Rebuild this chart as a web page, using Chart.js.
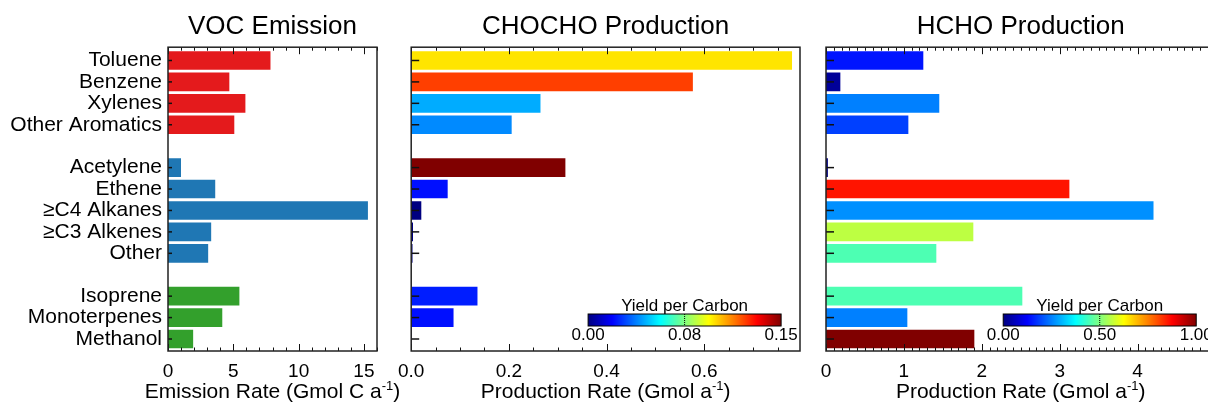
<!DOCTYPE html>
<html>
<head>
<meta charset="utf-8">
<script src="https://cdn.jsdelivr.net/npm/chart.js@4.4.1/dist/chart.umd.min.js"></script>
<style>
    html, body { margin: 0; padding: 0; background: #fff; width: 1208px; height: 403px; overflow: hidden; }
    .panel { position: absolute; top: 0; height: 403px; }
</style>
</head>
<body>
<div class="panel" style="left:0; width:412px"><canvas id="voc"></canvas></div>
<div class="panel" style="left:389px; width:423px"><canvas id="chocho"></canvas></div>
<div class="panel" style="left:811px; width:408px"><canvas id="hcho"></canvas></div>
<script>
// categories, blank entries are the gaps between groups
const categories = ["Toluene", "Benzene", "Xylenes", "Other Aromatics", "",
    "Acetylene", "Ethene", "\u2265C4 Alkanes", "\u2265C3 Alkenes", "Other", "",
    "Isoprene", "Monoterpenes", "Methanol"];
const groups = ["arom", "arom", "arom", "arom", "", "anth", "anth", "anth", "anth", "anth", "", "bio", "bio", "bio"];

// VOC emission (Gmol C a-1)
const emission = [7.82, 4.67, 5.90, 5.05, null, 0.97, 3.59, 15.28, 3.28, 3.05, null, 5.44, 4.13, 1.90];
// CHOCHO production (Gmol a-1) and yield per carbon
const chochoProd = [0.779, 0.576, 0.264, 0.205, null, 0.315, 0.074, 0.020, 0.003, 0.002, null, 0.135, 0.086, 0];
const chochoYield = [0.0975, 0.122, 0.044, 0.039, null, 0.15, 0.021, 0.0, 0.0, 0.0, null, 0.023, 0.021, 0];
// HCHO production (Gmol a-1) and yield per carbon
const hchoProd = [1.245, 0.18, 1.45, 1.053, null, 0.02, 3.12, 4.20, 1.887, 1.412, null, 2.516, 1.04, 1.90];
const hchoYield = [0.145, 0.025, 0.25, 0.1875, null, 0.0, 0.855, 0.266, 0.56, 0.45, null, 0.45, 0.25, 1.0];

// tick labels
const vocTicks = [0, 5, 10, 15];
const chochoTicks = [0, 0.2, 0.4, 0.6];
const hchoTicks = [0, 1, 2, 3, 4];
const chochoBarLabels = ["0.00", "0.08", "0.15"];
const hchoBarLabels = ["0.00", "0.50", "1.00"];

const groupColors = { arom: "#e41a1c", anth: "#1f77b4", bio: "#33a02c" };
const FONT = "'Liberation Sans', Arial, sans-serif";

Chart.defaults.font.family = FONT;
Chart.defaults.color = "#000";

// jet colour map
function jet(t) {
    t = Math.max(0, Math.min(1, t));
    const c = v => Math.round(255 * Math.max(0, Math.min(1, v)));
    return `rgb(${c(1.5 - Math.abs(4 * t - 3))},${c(1.5 - Math.abs(4 * t - 2))},${c(1.5 - Math.abs(4 * t - 1))})`;
}

// box round the plot with inward ticks
const frameTicks = {
    id: "frameTicks",
    afterDatasetsDraw(chart, args, opts) {
        const { ctx, chartArea: a, scales: { x, y } } = chart;
        ctx.save();
        ctx.strokeStyle = "#111";
        ctx.lineWidth = 1;
        const n = Math.floor(x.max / opts.minor + 1e-6);
        for (let k = 0; k <= n; k++) {
            const v = k * opts.minor;
            const px = Math.round(x.getPixelForValue(v)) + 0.5;
            const major = Math.abs(v / opts.major - Math.round(v / opts.major)) < 1e-6;
            const len = major ? opts.majorLen : opts.minorLen;
            ctx.beginPath();
            ctx.moveTo(px, a.bottom); ctx.lineTo(px, a.bottom - len);
            ctx.moveTo(px, a.top); ctx.lineTo(px, a.top + len);
            ctx.stroke();
        }
        ctx.lineWidth = 1.5;
        categories.forEach((c, i) => {
            if (!c) return;
            const py = y.getPixelForValue(i);
            ctx.beginPath();
            ctx.moveTo(a.left, py); ctx.lineTo(a.left + opts.yLen, py);
            ctx.stroke();
        });
        ctx.strokeStyle = "#222";
        ctx.strokeRect(a.left, a.top, a.right - a.left, a.bottom - a.top);
        ctx.restore();
    }
};

// x axis title with a raised "-1"
const xTitle = {
    id: "xTitle",
    afterDraw(chart, args, opts) {
        const { ctx, chartArea: a } = chart;
        const big = "21px " + FONT, small = "13px " + FONT;
        ctx.save();
        ctx.fillStyle = "#000";
        ctx.textBaseline = "alphabetic";
        ctx.textAlign = "left";
        ctx.font = big;
        const w1 = ctx.measureText(opts.pre).width, w3 = ctx.measureText(")").width;
        ctx.font = small;
        const w2 = ctx.measureText("-1").width;
        let x = (a.left + a.right) / 2 - (w1 + w2 + w3) / 2;
        const base = 398;
        ctx.font = big;
        ctx.fillText(opts.pre, x, base);
        ctx.font = small;
        ctx.fillText("-1", x + w1, base - 8);
        ctx.font = big;
        ctx.fillText(")", x + w1 + w2, base);
        ctx.restore();
    }
};

// colour bar legend
const colorBar = {
    id: "colorBar",
    afterDraw(chart, args, opts) {
        if (!opts.labels) return;
        const { ctx, chartArea: a } = chart;
        const w = a.right - a.left;
        const x0 = a.left + 0.455 * w, x1 = x0 + 193;
        const y0 = 314, y1 = 326;
        ctx.save();
        const g = ctx.createLinearGradient(x0, 0, x1, 0);
        for (let i = 0; i <= 16; i++) g.addColorStop(i / 16, jet(i / 16));
        ctx.fillStyle = g;
        ctx.fillRect(x0, y0, x1 - x0, y1 - y0);
        ctx.strokeStyle = "#000";
        ctx.lineWidth = 1;
        ctx.strokeRect(x0, y0, x1 - x0, y1 - y0);
        ctx.setLineDash([1, 1]);
        ctx.beginPath();
        ctx.moveTo((x0 + x1) / 2, y0); ctx.lineTo((x0 + x1) / 2, y1);
        ctx.stroke();
        ctx.setLineDash([]);
        ctx.fillStyle = "#000";
        ctx.textAlign = "center";
        ctx.textBaseline = "alphabetic";
        ctx.font = "17px " + FONT;
        ctx.fillText("Yield per Carbon", (x0 + x1) / 2, 311);
        opts.labels.forEach((t, i) => {
            ctx.fillText(t, x0 + (x1 - x0) * i / (opts.labels.length - 1), 340);
        });
        ctx.restore();
    }
};

function makeChart(id, cfg) {
    const pts = [], colors = [];
    categories.forEach((c, i) => {
        if (cfg.values[i] === null) return;
        pts.push({ x: cfg.values[i], y: i });
        colors.push(cfg.color(i));
    });
    return new Chart(document.getElementById(id), {
        type: "bar",
        data: {
            datasets: [{
                data: pts,
                backgroundColor: colors,
                borderWidth: 0,
                barThickness: 18
            }]
        },
        options: {
            indexAxis: "y",
            responsive: true,
            maintainAspectRatio: false,
            animation: false,
            events: [],
            layout: { padding: { left: 0, right: cfg.padRight, top: 0, bottom: 0 } },
            scales: {
                y: {
                    type: "linear",
                    reverse: true,
                    offset: false,
                    min: -0.62,
                    max: 13.56,
                    grid: { display: false, drawTicks: false },
                    border: { display: false },
                    afterBuildTicks: s => {
                        s.ticks = categories.map((c, i) => ({ value: i })).filter(t => categories[t.value]);
                    },
                    afterFit: s => { s.width = cfg.yWidth; },
                    ticks: {
                        display: cfg.showLabels,
                        autoSkip: false,
                        padding: 6,
                        font: { size: 21 },
                        callback: v => categories[v]
                    }
                },
                x: {
                    type: "linear",
                    min: 0,
                    max: cfg.max,
                    grid: { display: false, drawTicks: false },
                    border: { display: false },
                    afterBuildTicks: s => { s.ticks = cfg.ticks.map(v => ({ value: v })); },
                    afterFit: s => { s.height = 52; },
                    ticks: {
                        padding: 9,
                        maxRotation: 0,
                        font: { size: 19 },
                        callback: cfg.fmt
                    }
                }
            },
            plugins: {
                legend: { display: false },
                tooltip: { enabled: false },
                title: {
                    display: true,
                    text: cfg.title,
                    fullSize: false,
                    font: { size: 26, weight: "normal" },
                    padding: { top: 11, bottom: 5 }
                },
                frameTicks: cfg.frame,
                xTitle: { pre: cfg.xTitle },
                colorBar: { labels: cfg.barLabels }
            }
        },
        plugins: [frameTicks, xTitle, colorBar]
    });
}

makeChart("voc", {
    values: emission,
    color: i => groupColors[groups[i]],
    max: 16, ticks: vocTicks, fmt: v => String(v),
    padRight: 35, yWidth: 168, showLabels: true,
    title: "VOC Emission", xTitle: "Emission Rate (Gmol C a",
    frame: { minor: 1, major: 5, majorLen: 7, minorLen: 3.5, yLen: 4 },
    barLabels: null
});

makeChart("chocho", {
    values: chochoProd,
    color: i => jet(chochoYield[i] / 0.15),
    max: 0.796, ticks: chochoTicks, fmt: v => v.toFixed(1),
    padRight: 12, yWidth: 22, showLabels: false,
    title: "CHOCHO Production", xTitle: "Production Rate (Gmol a",
    frame: { minor: 0.05, major: 0.2, majorLen: 7, minorLen: 3.5, yLen: 8 },
    barLabels: chochoBarLabels
});

makeChart("hcho", {
    values: hchoProd,
    color: i => jet(hchoYield[i] / 1.0),
    max: 5, ticks: hchoTicks, fmt: v => String(v),
    padRight: 3.5, yWidth: 15, showLabels: false,
    title: "HCHO Production", xTitle: "Production Rate (Gmol a",
    frame: { minor: 0.1, major: 1, majorLen: 7, minorLen: 3.5, yLen: 8 },
    barLabels: hchoBarLabels
});
</script>
</body>
</html>
